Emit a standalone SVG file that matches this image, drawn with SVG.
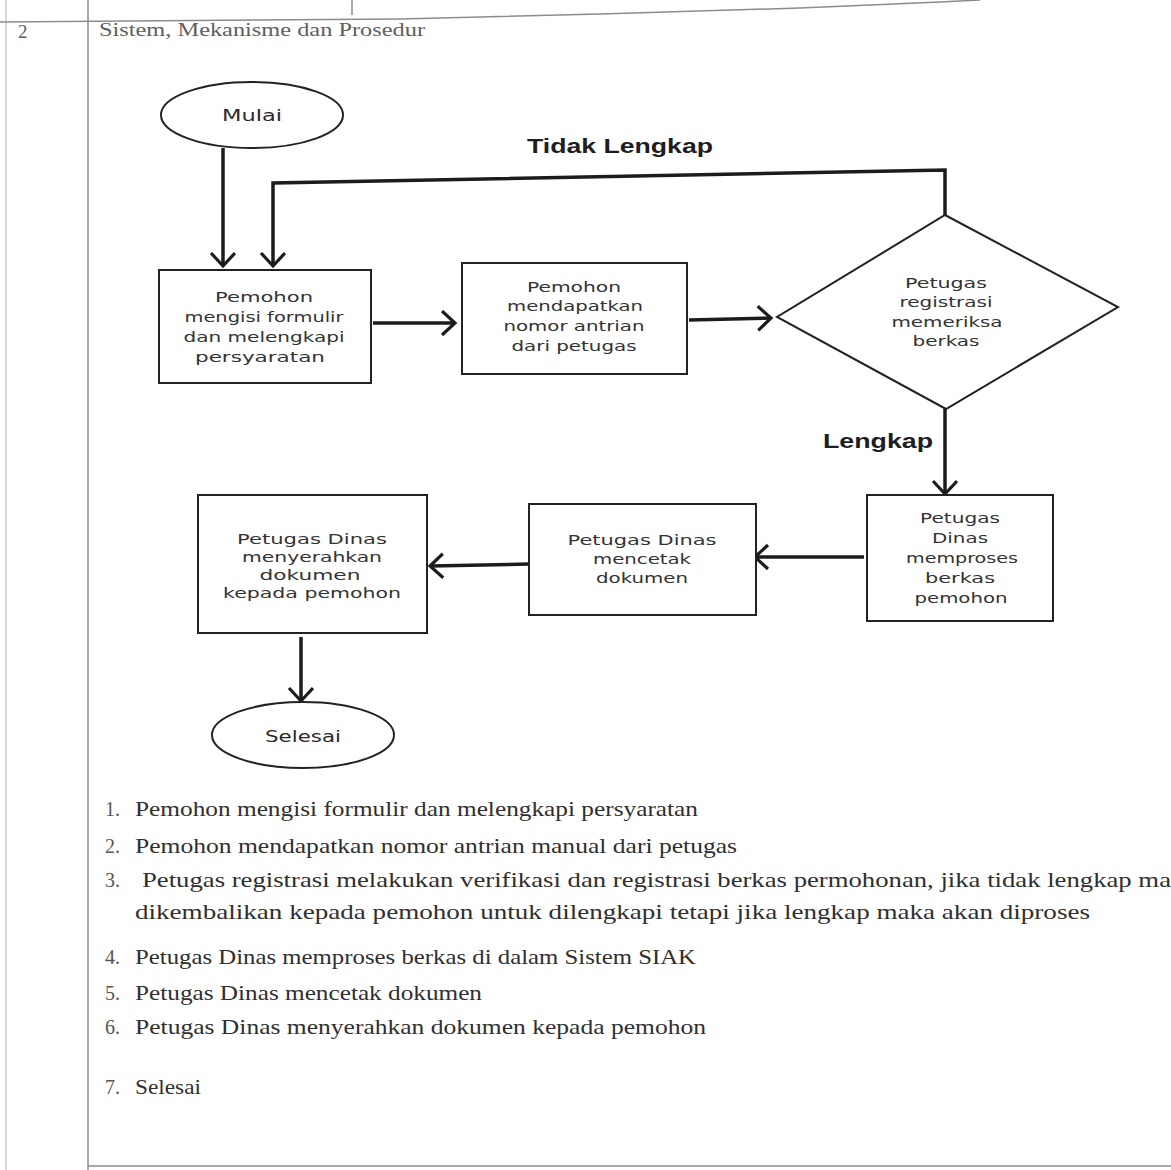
<svg xmlns="http://www.w3.org/2000/svg" width="1171" height="1170" viewBox="0 0 1171 1170">
  <style>
    .grid { fill: none; stroke: #8c8c8c; stroke-width: 1.5; }
    .shape { fill: #ffffff; stroke: #222222; stroke-width: 2; }
    .edge { fill: none; stroke: #1c1c1c; stroke-width: 3.5; }
    .lbl { font-family: "DejaVu Sans", "Liberation Sans", sans-serif; font-size: 13.5px; fill: #333333; text-anchor: middle; }
    .term { font-family: "DejaVu Sans", "Liberation Sans", sans-serif; font-size: 15px; fill: #2a2a2a; text-anchor: middle; }
    .cond { font-family: "Liberation Sans", "DejaVu Sans", sans-serif; font-size: 20px; font-weight: bold; fill: #1e1e1e; text-anchor: middle; }
    .doc { font-family: "Liberation Serif", "DejaVu Serif", serif; font-size: 21px; fill: #2f2f2f; }
    .num { font-family: "Liberation Serif", "DejaVu Serif", serif; font-size: 20px; fill: #555555; }
    .hdr { font-family: "Liberation Serif", "DejaVu Serif", serif; font-size: 19px; fill: #5e5e5e; }
  </style>
  <defs>
    <marker id="chev" markerUnits="userSpaceOnUse" markerWidth="32" markerHeight="32" refX="15" refY="13" orient="auto">
      <path d="M2,1 L15,13 L2,25" fill="none" stroke="#1c1c1c" stroke-width="3.2"/>
    </marker>
  </defs>

  <rect x="0" y="0" width="1171" height="1170" fill="#ffffff"/>

  <!-- table frame -->
  <g id="table">
    <line class="grid" x1="6" y1="0" x2="6" y2="1170" stroke-opacity="0.45"/>
    <line class="grid" x1="88" y1="0" x2="88" y2="1170"/>
    <line class="grid" x1="352" y1="0" x2="352" y2="15"/>
    <polyline class="grid" points="0,22 400,19 600,14 800,8 940,2 980,0"/>
    <line class="grid" x1="88" y1="1166" x2="1171" y2="1166"/>
    <text class="hdr" x="18" y="38">2</text>
    <text class="hdr" x="99" y="36" textLength="326" lengthAdjust="spacingAndGlyphs">Sistem, Mekanisme dan Prosedur</text>
  </g>

  <!-- connectors -->
  <g id="connectors">
    <line class="edge" x1="223" y1="148" x2="223" y2="266" marker-end="url(#chev)"/>
    <polyline class="edge" points="945,216 945,170 273,183 273,266" marker-end="url(#chev)"/>
    <line class="edge" x1="373" y1="323" x2="455" y2="323" marker-end="url(#chev)"/>
    <line class="edge" x1="689" y1="320" x2="771" y2="318" marker-end="url(#chev)"/>
    <line class="edge" x1="945" y1="409" x2="945" y2="494" marker-end="url(#chev)"/>
    <line class="edge" x1="864" y1="557" x2="755" y2="557" marker-end="url(#chev)"/>
    <line class="edge" x1="529" y1="564" x2="430" y2="566" marker-end="url(#chev)"/>
    <line class="edge" x1="301" y1="637" x2="301" y2="701" marker-end="url(#chev)"/>
    <text class="cond" x="620" y="153" textLength="186" lengthAdjust="spacingAndGlyphs">Tidak Lengkap</text>
    <text class="cond" x="878" y="448" textLength="110" lengthAdjust="spacingAndGlyphs">Lengkap</text>
  </g>

  <g id="mulai">
    <ellipse class="shape" cx="252" cy="115" rx="91" ry="33"/>
    <text class="term" x="252" y="121" textLength="60" lengthAdjust="spacingAndGlyphs">Mulai</text>
  </g>

  <g id="isi-formulir">
    <rect class="shape" x="159" y="270" width="212" height="113"/>
    <text class="lbl" x="264" y="302" textLength="98" lengthAdjust="spacingAndGlyphs">Pemohon</text>
    <text class="lbl" x="264" y="322" textLength="159" lengthAdjust="spacingAndGlyphs">mengisi formulir</text>
    <text class="lbl" x="264" y="342" textLength="161" lengthAdjust="spacingAndGlyphs">dan melengkapi</text>
    <text class="lbl" x="260" y="362" textLength="130" lengthAdjust="spacingAndGlyphs">persyaratan</text>
  </g>

  <g id="nomor-antrian">
    <rect class="shape" x="462" y="263" width="225" height="111"/>
    <text class="lbl" x="574" y="292" textLength="94" lengthAdjust="spacingAndGlyphs">Pemohon</text>
    <text class="lbl" x="575" y="311" textLength="136" lengthAdjust="spacingAndGlyphs">mendapatkan</text>
    <text class="lbl" x="574" y="331" textLength="141" lengthAdjust="spacingAndGlyphs">nomor antrian</text>
    <text class="lbl" x="574" y="351" textLength="125" lengthAdjust="spacingAndGlyphs">dari petugas</text>
  </g>

  <g id="periksa-berkas">
    <polygon class="shape" points="945,215 1118,307 946,409 777,317"/>
    <text class="lbl" x="946" y="288" textLength="82" lengthAdjust="spacingAndGlyphs">Petugas</text>
    <text class="lbl" x="946" y="307" textLength="93" lengthAdjust="spacingAndGlyphs">registrasi</text>
    <text class="lbl" x="947" y="327" textLength="111" lengthAdjust="spacingAndGlyphs">memeriksa</text>
    <text class="lbl" x="946" y="346" textLength="67" lengthAdjust="spacingAndGlyphs">berkas</text>
  </g>

  <g id="proses-berkas">
    <rect class="shape" x="867" y="495" width="186" height="126"/>
    <text class="lbl" x="960" y="523" textLength="80" lengthAdjust="spacingAndGlyphs">Petugas</text>
    <text class="lbl" x="960" y="543" textLength="56" lengthAdjust="spacingAndGlyphs">Dinas</text>
    <text class="lbl" x="962" y="563" textLength="112" lengthAdjust="spacingAndGlyphs">memproses</text>
    <text class="lbl" x="960" y="583" textLength="70" lengthAdjust="spacingAndGlyphs">berkas</text>
    <text class="lbl" x="961" y="603" textLength="93" lengthAdjust="spacingAndGlyphs">pemohon</text>
  </g>

  <g id="cetak-dokumen">
    <rect class="shape" x="529" y="504" width="227" height="111"/>
    <text class="lbl" x="642" y="545" textLength="149" lengthAdjust="spacingAndGlyphs">Petugas Dinas</text>
    <text class="lbl" x="642" y="564" textLength="98" lengthAdjust="spacingAndGlyphs">mencetak</text>
    <text class="lbl" x="642" y="583" textLength="92" lengthAdjust="spacingAndGlyphs">dokumen</text>
  </g>

  <g id="serahkan-dokumen">
    <rect class="shape" x="198" y="495" width="229" height="138"/>
    <text class="lbl" x="312" y="544" textLength="150" lengthAdjust="spacingAndGlyphs">Petugas Dinas</text>
    <text class="lbl" x="312" y="562" textLength="140" lengthAdjust="spacingAndGlyphs">menyerahkan</text>
    <text class="lbl" x="310" y="580" textLength="101" lengthAdjust="spacingAndGlyphs">dokumen</text>
    <text class="lbl" x="312" y="598" textLength="178" lengthAdjust="spacingAndGlyphs">kepada pemohon</text>
  </g>

  <g id="selesai">
    <ellipse class="shape" cx="303" cy="735" rx="91" ry="33"/>
    <text class="term" x="303" y="742" textLength="76" lengthAdjust="spacingAndGlyphs">Selesai</text>
  </g>

  <!-- numbered description of the procedure -->
  <g id="steps">
    <text class="num" x="105" y="816">1.</text>
    <text class="doc" x="135" y="816" textLength="563" lengthAdjust="spacingAndGlyphs">Pemohon mengisi formulir dan melengkapi persyaratan</text>
    <text class="num" x="105" y="853">2.</text>
    <text class="doc" x="135" y="853" textLength="602" lengthAdjust="spacingAndGlyphs">Pemohon mendapatkan nomor antrian manual dari petugas</text>
    <text class="num" x="105" y="887">3.</text>
    <text class="doc" x="142" y="887" textLength="1029" lengthAdjust="spacingAndGlyphs">Petugas  registrasi melakukan verifikasi dan registrasi berkas permohonan, jika tidak lengkap ma</text>
    <text class="doc" x="135" y="919" textLength="955" lengthAdjust="spacingAndGlyphs">dikembalikan kepada pemohon untuk dilengkapi tetapi jika lengkap maka akan diproses</text>
    <text class="num" x="105" y="964">4.</text>
    <text class="doc" x="135" y="964" textLength="561" lengthAdjust="spacingAndGlyphs">Petugas Dinas memproses berkas di dalam Sistem SIAK</text>
    <text class="num" x="105" y="1000">5.</text>
    <text class="doc" x="135" y="1000" textLength="347" lengthAdjust="spacingAndGlyphs">Petugas Dinas mencetak dokumen</text>
    <text class="num" x="105" y="1034">6.</text>
    <text class="doc" x="135" y="1034" textLength="571" lengthAdjust="spacingAndGlyphs">Petugas Dinas menyerahkan dokumen kepada pemohon</text>
    <text class="num" x="105" y="1094">7.</text>
    <text class="doc" x="135" y="1094" textLength="66" lengthAdjust="spacingAndGlyphs">Selesai</text>
  </g>
</svg>
